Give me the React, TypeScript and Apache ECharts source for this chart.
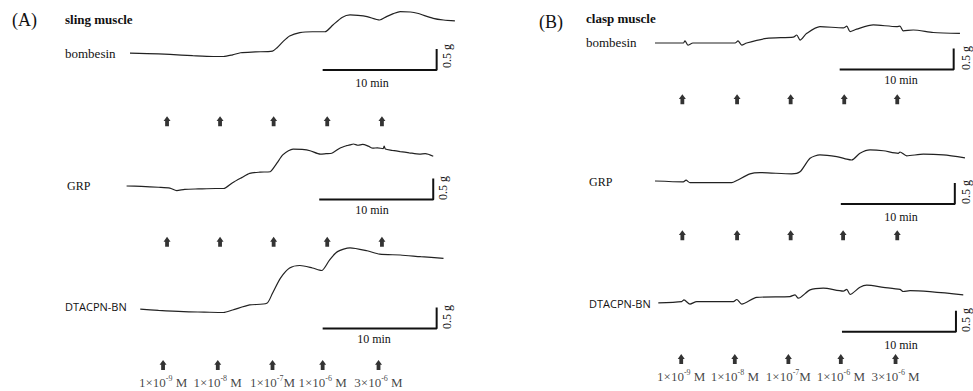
import React, { useEffect, useRef } from "react";
import * as echarts from "echarts";

// ---- Data (time in min, tension in g relative to trace start) ----
const aBombesin: [number, number][] = [
  [0, 0.02], [1.5, 0.01], [3.5, -0.01], [5.5, -0.04], [7.3, -0.06], [8.2, -0.06], [9.0, -0.02], [9.7, 0.03],
  [11, 0.05], [12.5, 0.07], [12.9, 0.15], [13.4, 0.29], [14.0, 0.43], [14.9, 0.51], [16, 0.53], [17.1, 0.53],
  [17.8, 0.69], [18.6, 0.87], [19.3, 0.93], [20, 0.92], [20.8, 0.89], [21.9, 0.81], [22.5, 0.89], [23.1, 0.96],
  [23.7, 1.01], [24.6, 1.0], [25.2, 0.97], [26.6, 0.85], [27.5, 0.81], [28.5, 0.79],
];
const aGRP: [number, number][] = [
  [-0.3, 0], [1, -0.01], [2.5, -0.03], [3.5, -0.05], [4.1, -0.11], [4.8, -0.08], [6, -0.07], [7.5, -0.06],
  [8.2, -0.06], [9.0, 0.08], [9.8, 0.2], [10.5, 0.3], [11.4, 0.33], [12.3, 0.34], [12.45, 0.38], [12.9, 0.55],
  [13.4, 0.74], [13.9, 0.84], [14.3, 0.88], [15.1, 0.87], [15.8, 0.84], [16.7, 0.76], [17.2, 0.77], [17.7, 0.78],
  [18.4, 0.9], [19.0, 0.96], [19.3, 0.98], [19.6, 1.0], [20.0, 0.97], [20.4, 0.99], [20.9, 0.95], [21.3, 0.9],
  [21.7, 0.91], [22.2, 0.89], [22.3, 0.95], [22.4, 0.88], [23.0, 0.85], [23.7, 0.82], [24.5, 0.79], [25.4, 0.76],
  [25.9, 0.77], [26.6, 0.71],
];
const aDTACPN: [number, number][] = [
  [0.9, 0.02], [2.5, -0.01], [4.7, -0.04], [6.5, -0.05], [8.2, -0.06], [9.0, 0], [10.5, 0.12], [12.0, 0.16],
  [12.5, 0.4], [13.2, 0.76], [14.0, 1.0], [14.9, 1.06], [16.0, 1.0], [16.8, 0.94], [17.5, 1.19], [18.2, 1.39],
  [19.3, 1.48], [20.8, 1.41], [21.9, 1.33], [23.7, 1.31], [25.5, 1.27], [27.5, 1.23],
];
const bBombesin: [number, number][] = [
  [0, 0], [2.48, 0], [2.63, 0.05], [2.89, -0.05], [3.33, 0], [7.02, 0], [7.28, 0.05], [7.61, -0.05],
  [8.04, 0], [9.8, 0.11], [12.13, 0.14], [12.43, 0.19], [12.72, 0.07], [13.31, 0.23], [14.47, 0.39],
  [16.52, 0.36], [16.82, 0.4], [17.11, 0.27], [17.69, 0.33], [19.15, 0.43], [21.2, 0.39], [21.49, 0.4],
  [21.78, 0.29], [22.66, 0.31], [24.41, 0.25], [26.75, 0.23],
];
const bGRP: [number, number][] = [
  [0, 0], [2.48, -0.02], [2.72, 0.02], [3.07, -0.04], [6.73, -0.04], [7.17, 0.01], [8.33, 0.17], [9.21, 0.2],
  [11.99, 0.17], [12.72, 0.22], [13.6, 0.54], [14.47, 0.62], [15.94, 0.58], [16.82, 0.52], [17.25, 0.5],
  [17.98, 0.66], [18.86, 0.74], [20.03, 0.72], [21.34, 0.66], [21.49, 0.69], [22.08, 0.6], [23.54, 0.64],
  [25.29, 0.62], [27.19, 0.55],
];
const bDTACPN: [number, number][] = [
  [0.29, -0.02], [2.34, 0.01], [2.54, 0.05], [3.07, -0.05], [3.66, 0.01], [6.87, 0.01], [7.17, 0.06],
  [7.61, -0.05], [8.92, 0.11], [11.84, 0.13], [12.28, 0.17], [12.57, 0.09], [13.6, 0.29], [14.76, 0.33],
  [16.52, 0.26], [16.82, 0.3], [17.11, 0.18], [17.98, 0.35], [18.57, 0.4], [20.03, 0.35], [21.49, 0.3],
  [21.78, 0.25], [22.37, 0.27], [27.04, 0.17],
];

// dose addition times (min)
const aDoses12 = [3.25, 7.9, 12.6, 17.3, 22.1];
const aDoses3 = [2.9, 7.7, 12.5, 16.9, 21.8];
const bDoses1 = [2.4, 7.2, 11.9, 16.6, 21.25];
const bDoses2 = [2.4, 7.2, 11.9, 16.5, 21.25];
const bDoses3 = [2.3, 7.0, 11.7, 16.3, 21.1];
const doseMantissa = ["1", "1", "1", "1", "3"];
const doseExponent = ["-9", "-8", "-7", "-6", "-6"];
const doseUnitSep = [" ", " ", "", " ", " "];

// scale bar: 10 min, 0.5 g
const barMinutes = 10;
const barGrams = 0.5;

const PX_MIN = 11.4;
const PX_G = 42;
const SERIF = "Liberation Serif";
const SANS = "Open Sans";
const INK = "#111111";

type Trace = {
  data: [number, number][];
  doses: number[];
  bar: [number, number];
  left: number;
  base: number;
  ymax: number;
  ymin: number;
  xmax: number;
  arrowY: number;
  labels: boolean;
};

const traces: Trace[] = [
  { data: aBombesin, doses: aDoses12, bar: [16.9, -0.38], left: 130, base: 54, ymax: 1.2, ymin: -1.8, xmax: 30, arrowY: -1.6, labels: false },
  { data: aGRP, doses: aDoses12, bar: [16.6, -0.32], left: 130, base: 186, ymax: 1.2, ymin: -1.5, xmax: 30, arrowY: -1.33, labels: false },
  { data: aDTACPN, doses: aDoses3, bar: [16.9, -0.44], left: 130, base: 310, ymax: 1.7, ymin: -1.7, xmax: 30, arrowY: -1.31, labels: true },
  { data: bBombesin, doses: bDoses1, bar: [16.2, -0.63], left: 655, base: 43, ymax: 0.8, ymin: -1.6, xmax: 27.5, arrowY: -1.34, labels: false },
  { data: bGRP, doses: bDoses2, bar: [16.3, -0.55], left: 655, base: 181, ymax: 0.9, ymin: -1.5, xmax: 27.5, arrowY: -1.29, labels: false },
  { data: bDTACPN, doses: bDoses3, bar: [16.4, -0.71], left: 655, base: 302, ymax: 0.8, ymin: -1.6, xmax: 27.5, arrowY: -1.36, labels: true },
];

const ARROW = "path://M3.5,0 L7,4.8 L5.4,4.8 L5.4,10 L1.6,10 L1.6,4.8 L0,4.8 Z";

function text(
  x: number,
  y: number,
  t: string,
  size: number,
  family: string,
  opts: { align?: string; rotation?: number; weight?: string } = {}
) {
  return {
    type: "text",
    x,
    y,
    rotation: opts.rotation || 0,
    silent: true,
    style: {
      text: t,
      fontSize: size,
      fontFamily: family,
      fontWeight: opts.weight || "normal",
      fill: INK,
      textAlign: opts.align || "left",
      align: opts.align || "left",
      textVerticalAlign: "middle",
      verticalAlign: "middle",
    },
  };
}

export default function App() {
  const ref = useRef<HTMLDivElement>(null);
  useEffect(() => {
    if (!ref.current) return;
    const chart = echarts.init(ref.current, undefined, { renderer: "svg" });
    const grid: any[] = [];
    const xAxis: any[] = [];
    const yAxis: any[] = [];
    const series: any[] = [];
    traces.forEach((tr, i) => {
      const xmin = -1;
      grid.push({
        left: tr.left + xmin * PX_MIN,
        top: tr.base - tr.ymax * PX_G,
        width: (tr.xmax - xmin) * PX_MIN,
        height: (tr.ymax - tr.ymin) * PX_G,
        containLabel: false,
      });
      xAxis.push({ gridIndex: i, type: "value", min: xmin, max: tr.xmax, show: false });
      yAxis.push({ gridIndex: i, type: "value", min: tr.ymin, max: tr.ymax, show: false });
      series.push({
        type: "line",
        xAxisIndex: i,
        yAxisIndex: i,
        data: tr.data,
        showSymbol: false,
        symbol: "none",
        smooth: 0.25,
        lineStyle: { color: "#222", width: 1.2 },
        silent: true,
      });
      const [bx, by] = tr.bar;
      series.push({
        type: "line",
        xAxisIndex: i,
        yAxisIndex: i,
        data: [
          [bx, by],
          [bx + barMinutes, by],
          [bx + barMinutes, by + barGrams],
        ],
        showSymbol: false,
        symbol: "none",
        lineStyle: { color: INK, width: 2 },
        silent: true,
      });
      series.push({
        type: "scatter",
        xAxisIndex: i,
        yAxisIndex: i,
        clip: false,
        symbol: ARROW,
        symbolSize: [7, 10],
        itemStyle: { color: "#000" },
        silent: true,
        data: tr.doses.map((t) => [t, tr.arrowY]),
        label: tr.labels
          ? {
              show: true,
              position: "bottom",
              distance: 4,
              formatter: (p: any) => {
                const k = p.dataIndex;
                return `{n|${doseMantissa[k]}×10}{s|${doseExponent[k]}}{n|${doseUnitSep[k]}M}`;
              },
              rich: {
                n: { fontFamily: SERIF, fontSize: 13, color: INK, lineHeight: 15, verticalAlign: "bottom" },
                s: { fontFamily: SERIF, fontSize: 8, color: INK, lineHeight: 15, verticalAlign: "top" },
              },
            }
          : { show: false },
      });
    });

    const rot = Math.PI / 2;
    const graphic: any[] = [
      text(12, 20, "(A)", 18, SERIF),
      text(65, 19, "sling muscle", 13, SERIF, { weight: "bold" }),
      text(65, 53, "bombesin", 13, SERIF),
      text(67, 186, "GRP", 12, SERIF),
      text(65, 306, "DTACPN-BN", 11, SANS),
      text(539, 22, "(B)", 18, SERIF),
      text(586, 18, "clasp muscle", 13, SERIF, { weight: "bold" }),
      text(586, 42, "bombesin", 13, SERIF),
      text(589, 182, "GRP", 12, SERIF),
      text(589, 303, "DTACPN-BN", 11, SANS),
      text(372, 83, "10 min", 12, SERIF, { align: "center" }),
      text(372, 210, "10 min", 12, SERIF, { align: "center" }),
      text(374, 339, "10 min", 12, SERIF, { align: "center" }),
      text(901, 80, "10 min", 12, SERIF, { align: "center" }),
      text(901, 217, "10 min", 12, SERIF, { align: "center" }),
      text(901, 345, "10 min", 12, SERIF, { align: "center" }),
      text(447, 56, "0.5 g", 12, SERIF, { align: "center", rotation: rot }),
      text(443, 188, "0.5 g", 12, SERIF, { align: "center", rotation: rot }),
      text(447, 317, "0.5 g", 12, SERIF, { align: "center", rotation: rot }),
      text(966, 58, "0.5 g", 12, SERIF, { align: "center", rotation: rot }),
      text(966, 192, "0.5 g", 12, SERIF, { align: "center", rotation: rot }),
      text(966, 320, "0.5 g", 12, SERIF, { align: "center", rotation: rot }),
    ];

    chart.setOption({
      animation: false,
      backgroundColor: "#ffffff",
      grid,
      xAxis,
      yAxis,
      series,
      graphic,
    });
    return () => chart.dispose();
  }, []);
  return (
    <div
      ref={ref}
      style={{ position: "fixed", left: 0, top: 0, width: 973, height: 391, background: "#fff" }}
    />
  );
}
